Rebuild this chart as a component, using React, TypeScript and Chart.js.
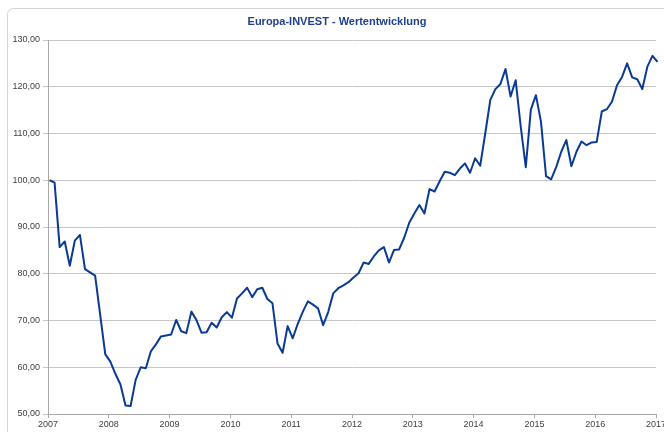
import React, { useEffect, useRef } from "react";
import { Chart, registerables } from "chart.js";

Chart.register(...registerables);

const TITLE = "Europa-INVEST - Wertentwicklung";
const START_YEAR = 2007;
const END_YEAR = 2017;
const Y_MIN = 50;
const Y_MAX = 130;
const Y_STEP = 10;

// Monthly fund values, Jan 2007 .. Jan 2017
const values2007 = [100.0, 99.5, 85.7, 86.9, 81.7, 87.1, 88.3, 81.0, 80.3, 79.6, 71.2, 62.8];
const values2008 = [61.2, 58.6, 56.3, 51.8, 51.7, 57.3, 60.0, 59.8, 63.4, 64.9, 66.6, 66.8];
const values2009 = [67.0, 70.1, 67.7, 67.3, 71.9, 70.1, 67.4, 67.5, 69.5, 68.5, 70.7, 71.8];
const values2010 = [70.6, 74.7, 75.8, 77.0, 75.0, 76.7, 77.0, 74.6, 73.7, 65.1, 63.1, 68.8];
const values2011 = [66.2, 69.3, 71.9, 74.1, 73.4, 72.6, 69.0, 71.8, 75.8, 76.9, 77.5, 78.2];
const values2012 = [79.2, 80.1, 82.4, 82.1, 83.7, 85.0, 85.7, 82.4, 85.1, 85.2, 87.7, 90.9];
const values2013 = [92.9, 94.7, 92.9, 98.1, 97.6, 99.8, 101.8, 101.6, 101.1, 102.5, 103.6, 101.6];
const values2014 = [104.7, 103.1, 110.0, 117.2, 119.5, 120.6, 123.8, 117.9, 121.4, 111.5, 102.8, 115.1];
const values2015 = [118.2, 112.5, 100.9, 100.2, 102.8, 106.1, 108.6, 103.0, 106.1, 108.3, 107.5, 108.1];
const values2016 = [108.2, 114.7, 115.2, 116.8, 120.3, 122.1, 125.0, 122.0, 121.6, 119.5, 124.3, 126.6];
const values2017 = [125.3];

const series = [
  ...values2007, ...values2008, ...values2009, ...values2010, ...values2011,
  ...values2012, ...values2013, ...values2014, ...values2015, ...values2016, ...values2017,
];

const LINE_COLOR = "#0b3a94";
const TITLE_COLOR = "#1f3f8f";
const GRID_COLOR = "#c6c6c6";
const AXIS_COLOR = "#a8a8a8";
const LABEL_COLOR = "#404040";
const FONT = "'Liberation Sans', Arial, sans-serif";

export default function App() {
  const ref = useRef<HTMLCanvasElement | null>(null);

  useEffect(() => {
    const canvas = ref.current;
    if (!canvas) return;
    const points = series.map((v, i) => ({ x: START_YEAR + (i + 0.3) / 12, y: v }));

    const framePlugin = {
      id: "frame",
      beforeDraw(chart: any) {
        const ctx = chart.ctx;
        ctx.save();
        ctx.fillStyle = "#ffffff";
        ctx.fillRect(0, 0, chart.width, chart.height);
        ctx.strokeStyle = "#d4d4d4";
        ctx.lineWidth = 1;
        const x = 7.5, y = 8.5, w = 720, h = 520, r = 6;
        ctx.beginPath();
        ctx.moveTo(x + r, y);
        ctx.lineTo(x + w - r, y);
        ctx.arcTo(x + w, y, x + w, y + r, r);
        ctx.lineTo(x + w, y + h - r);
        ctx.arcTo(x + w, y + h, x + w - r, y + h, r);
        ctx.lineTo(x + r, y + h);
        ctx.arcTo(x, y + h, x, y + h - r, r);
        ctx.lineTo(x, y + r);
        ctx.arcTo(x, y, x + r, y, r);
        ctx.closePath();
        ctx.stroke();
        ctx.restore();
      },
      afterDraw(chart: any) {
        const ctx = chart.ctx;
        ctx.save();
        ctx.font = `bold 11px ${FONT}`;
        ctx.fillStyle = TITLE_COLOR;
        ctx.textAlign = "center";
        ctx.textBaseline = "middle";
        ctx.fillText(TITLE, 337, 22);
        ctx.restore();
      },
    };

    const chart = new Chart(canvas, {
      type: "line",
      data: {
        datasets: [
          {
            data: points,
            borderColor: LINE_COLOR,
            borderWidth: 2,
            pointRadius: 0,
            tension: 0,
            borderJoinStyle: "round",
            fill: false,
            clip: false,
          },
        ],
      },
      options: {
        responsive: false,
        animation: false,
        layout: { padding: { left: 0, top: 40, right: 8, bottom: 0 } },
        plugins: {
          legend: { display: false },
          title: { display: false },
          tooltip: { enabled: false },
        },
        scales: {
          x: {
            type: "linear",
            min: START_YEAR,
            max: END_YEAR,
            ticks: {
              stepSize: 1,
              autoSkip: false,
              maxRotation: 0,
              padding: 1,
              color: LABEL_COLOR,
              font: { family: FONT, size: 9 },
              callback: (v: any) => String(v),
            },
            grid: {
              drawOnChartArea: false,
              drawTicks: true,
              tickLength: 4,
              color: AXIS_COLOR,
            },
            border: { display: true, color: AXIS_COLOR, width: 1 },
            afterFit: (s: any) => {
              s.height = 18;
              s.paddingLeft = 0;
              s.paddingRight = 0;
            },
          },
          y: {
            min: Y_MIN,
            max: Y_MAX,
            ticks: {
              stepSize: Y_STEP,
              padding: 3,
              color: LABEL_COLOR,
              font: { family: FONT, size: 9 },
              callback: (v: any) => Number(v).toFixed(2).replace(".", ","),
            },
            grid: {
              color: GRID_COLOR,
              lineWidth: 1,
              drawTicks: true,
              tickLength: 5,
            },
            border: { display: true, color: AXIS_COLOR, width: 1 },
            afterFit: (s: any) => {
              s.width = 48;
              s.paddingTop = 0;
              s.paddingBottom = 0;
            },
          },
        },
      } as any,
      plugins: [framePlugin],
    });

    return () => chart.destroy();
  }, []);

  return (
    <div style={{ position: "absolute", left: 0, top: 0, width: 664, height: 432, background: "#fff" }}>
      <canvas ref={ref} width={664} height={432} style={{ display: "block", width: 664, height: 432 }} />
    </div>
  );
}
